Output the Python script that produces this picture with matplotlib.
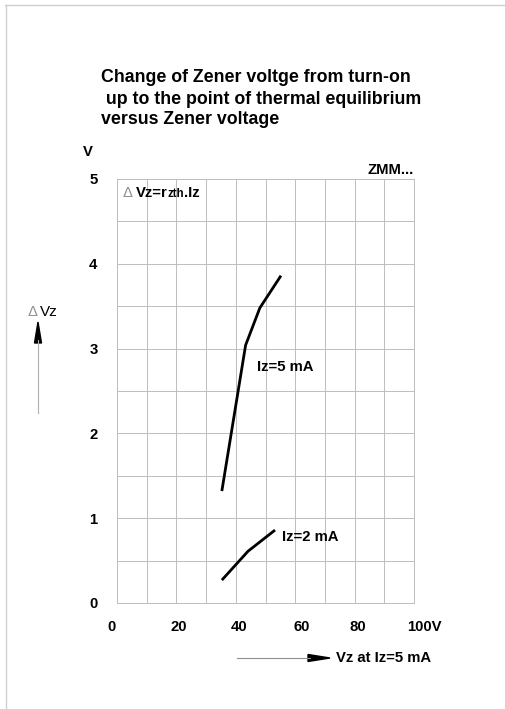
import matplotlib.pyplot as plt
from matplotlib.lines import Line2D
from matplotlib.transforms import ScaledTranslation

# Daten
vz_5ma = [35.3, 43.3, 48.1, 55.2]
dvz_5ma = [1.32, 3.04, 3.48, 3.86]
vz_2ma = [35.3, 44.1, 53.2]
dvz_2ma = [0.27, 0.61, 0.86]

x_ticks = [0, 20, 40, 60, 80, 100]
x_tick_labels = ['0', '20', '40', '60', '80', '100V']
y_ticks = [0, 1, 2, 3, 4, 5]

W, H = 505, 709
fig = plt.figure(figsize=(W / 100, H / 100), dpi=100)
plt.rcParams['font.family'] = ['Liberation Sans', 'DejaVu Sans']
fs = 10.7

# Achsenbereich in Pixeln: x 117..414, y 179..603
ax = fig.add_axes([117 / W, 1 - 603 / H, (414 - 117) / W, (603 - 179) / H])
ax.set_xlim(0, 100)
ax.set_ylim(0, 5)

grid_col = '#bdbdbd'
for x in range(0, 101, 10):
    ax.axvline(x, color=grid_col, lw=0.7, zorder=1)
for y in [i * 0.5 for i in range(11)]:
    ax.axhline(y, color=grid_col, lw=0.7, zorder=1)
for s in ax.spines.values():
    s.set_color(grid_col)
    s.set_linewidth(0.7)

ax.plot(vz_5ma, dvz_5ma, color='black', lw=2, solid_capstyle='butt', zorder=3)
ax.plot(vz_2ma, dvz_2ma, color='black', lw=2, solid_capstyle='butt', zorder=3)

ax.set_xticks(x_ticks)
ax.set_xticklabels(x_tick_labels, fontsize=fs, fontweight='bold')
ax.set_yticks(y_ticks)
ax.set_yticklabels([str(v) for v in y_ticks], fontsize=fs, fontweight='bold')
ax.tick_params(axis='x', length=0, pad=12)
ax.tick_params(axis='y', length=0, pad=14)

# Beschriftungen der x-Achse sitzen im Original etwas versetzt
shifts = [-5, 2, 3, 6, 3, 10]
for lab, dx in zip(ax.get_xticklabels(), shifts):
    lab.set_transform(lab.get_transform() + ScaledTranslation(dx / 100, 0, fig.dpi_scale_trans))

ax.text(47.3, 2.78, 'Iz=5 mA', fontsize=fs, fontweight='bold', va='center')
ax.text(55.6, 0.78, 'Iz=2 mA', fontsize=fs, fontweight='bold', va='center')

# Formel oben links
t1 = ax.text(2.0, 4.83, '\u0394 ', fontsize=fs, color='#909090', va='center')
t2 = ax.annotate('Vz=r', xy=(1, 0), xycoords=t1, fontsize=fs, fontweight='bold',
                 va='bottom', ha='left')
t3 = ax.annotate('zth', xy=(1, 0), xycoords=t2, fontsize=8.3, fontweight='bold',
                 va='bottom', ha='left', xytext=(-0.6, 0.3), textcoords='offset points')
ax.annotate('.Iz', xy=(1, 0), xycoords=t3, fontsize=fs, fontweight='bold',
            va='bottom', ha='left', xytext=(0, -0.3), textcoords='offset points')

# Titel und Beschriftungen in Pixelkoordinaten
def px(x, y):
    return x / W, 1 - y / H

title_lines = ['Change of Zener voltge from turn-on',
               ' up to the point of thermal equilibrium',
               'versus Zener voltage']
for i, line in enumerate(title_lines):
    fig.text(*px(101, 78 + i * 21), line, fontsize=12.8, fontweight='bold', va='center')

fig.text(*px(88, 152), 'V', fontsize=fs, fontweight='bold', ha='center', va='center')
fig.text(*px(414, 170), 'ZMM...', fontsize=fs, fontweight='bold', ha='right', va='center')

# y-Achsentitel mit Pfeil
fig.text(*px(27, 312), '\u0394', fontsize=fs, color='#909090', va='center')
fig.text(*px(40, 312), 'Vz', fontsize=11, va='center')
fig.add_artist(Line2D([38 / W, 38 / W], [1 - 413 / H, 1 - 340 / H],
                      color='#b0b0b0', lw=0.8, transform=fig.transFigure))
fig.patches.append(plt.Polygon([px(38, 322), px(34.5, 343), px(41.5, 343)],
                               closed=True, color='black', transform=fig.transFigure))

# x-Achsentitel mit Pfeil
fig.add_artist(Line2D([237 / W, 310 / W], [1 - 658 / H, 1 - 658 / H],
                      color='#909090', lw=0.8, transform=fig.transFigure))
fig.patches.append(plt.Polygon([px(330, 658), px(308, 654.5), px(308, 661.5)],
                               closed=True, color='black', transform=fig.transFigure))
fig.text(*px(336, 658), 'Vz at Iz=5 mA', fontsize=fs, fontweight='bold', va='center')

# Seitenrahmen oben und links
fig.add_artist(Line2D([5 / W, 1], [1 - 4.5 / H, 1 - 4.5 / H], color='#d0d0d0', lw=1,
                      transform=fig.transFigure))
fig.add_artist(Line2D([5.5 / W, 5.5 / W], [0, 1 - 4.5 / H], color='#d0d0d0', lw=1,
                      transform=fig.transFigure))

fig.savefig('out.png', dpi=100)
